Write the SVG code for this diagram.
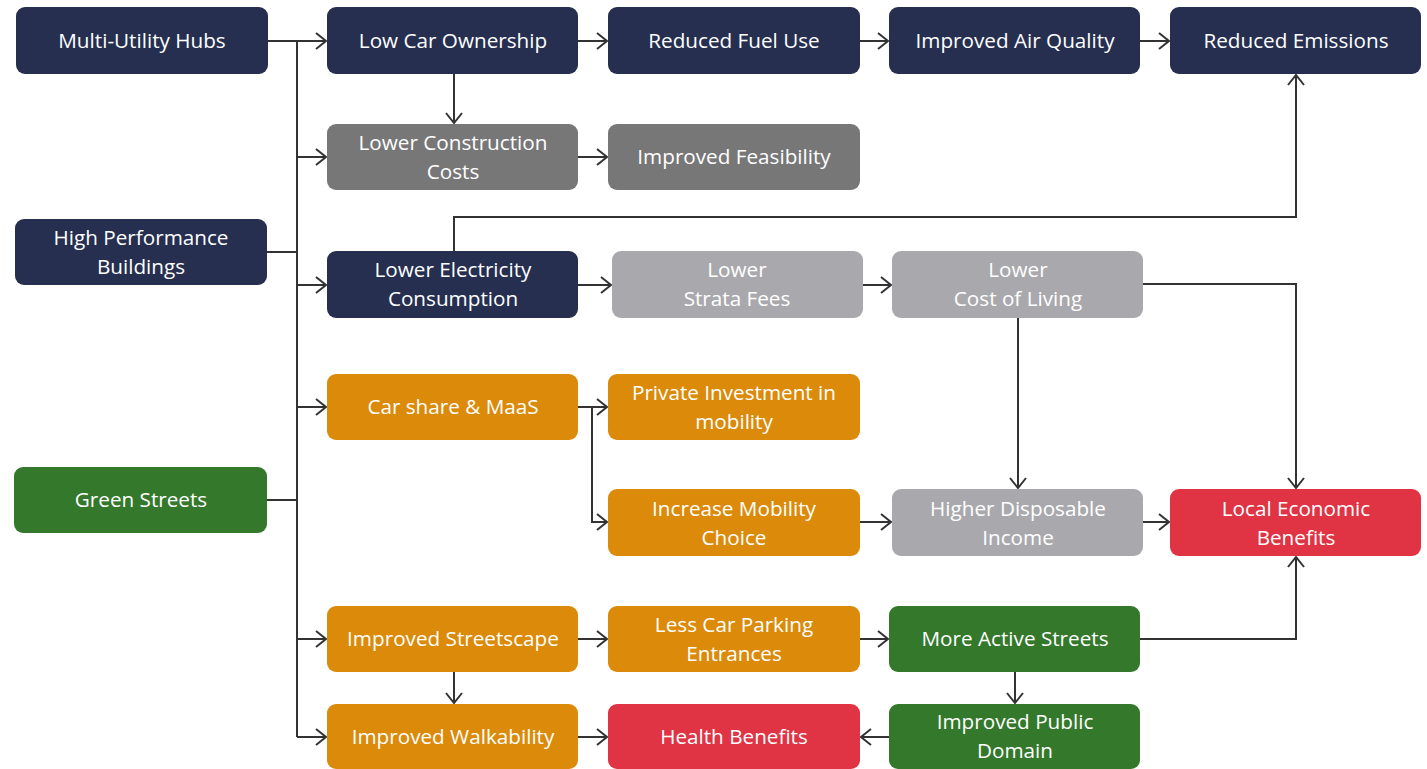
<svg xmlns="http://www.w3.org/2000/svg" width="1427" height="769" viewBox="0 0 1427 769">
<defs>
<marker id="ah" viewBox="0 0 12 18" refX="11" refY="9" markerWidth="12" markerHeight="18" markerUnits="userSpaceOnUse" orient="auto">
<path d="M1,1 L11,9 L1,17" fill="none" stroke="#333" stroke-width="2"/>
</marker>
<style>
.n rect{rx:9;ry:9}
.navy{fill:#262f4f}
.dg{fill:#777778}
.lg{fill:#a9a9ad}
.or{fill:#dc8a0a}
.gr{fill:#34782c}
.rd{fill:#e03344}
text{font-family:"Open Sans","Liberation Sans",sans-serif;font-size:20.7px;fill:#fff;text-anchor:middle}
.c path{fill:none;stroke:#333;stroke-width:2}
</style>
</defs>
<rect width="1427" height="769" fill="#fff"/>
<g class="c" id="connectors">
<path d="M268,41 H297 V737"/>
<path d="M267,252 H297"/>
<path d="M267,500 H297"/>
<path d="M297,41 H326" marker-end="url(#ah)"/>
<path d="M297,157 H326" marker-end="url(#ah)"/>
<path d="M297,285 H326" marker-end="url(#ah)"/>
<path d="M297,407 H326" marker-end="url(#ah)"/>
<path d="M297,639 H326" marker-end="url(#ah)"/>
<path d="M297,737 H326" marker-end="url(#ah)"/>
<path d="M578,41 H607" marker-end="url(#ah)"/>
<path d="M860,41 H888" marker-end="url(#ah)"/>
<path d="M1140,41 H1169" marker-end="url(#ah)"/>
<path d="M454,74 V123" marker-end="url(#ah)"/>
<path d="M578,157 H607" marker-end="url(#ah)"/>
<path d="M454,251 V217 H1296 V75" marker-end="url(#ah)"/>
<path d="M578,285 H611" marker-end="url(#ah)"/>
<path d="M863,285 H891" marker-end="url(#ah)"/>
<path d="M1143,284 H1296 V488" marker-end="url(#ah)"/>
<path d="M1018,318 V488" marker-end="url(#ah)"/>
<path d="M578,407 H607" marker-end="url(#ah)"/>
<path d="M592,407 V522 H607" marker-end="url(#ah)"/>
<path d="M860,522 H891" marker-end="url(#ah)"/>
<path d="M1143,522 H1169" marker-end="url(#ah)"/>
<path d="M578,639 H607" marker-end="url(#ah)"/>
<path d="M860,639 H888" marker-end="url(#ah)"/>
<path d="M1140,639 H1296 V557" marker-end="url(#ah)"/>
<path d="M454,672 V703" marker-end="url(#ah)"/>
<path d="M1015,672 V703" marker-end="url(#ah)"/>
<path d="M578,737 H607" marker-end="url(#ah)"/>
<path d="M889,737 H861" marker-end="url(#ah)"/>
</g>
<g class="n" id="n-hubs"><rect class="navy" x="16" y="7" width="252" height="67"/><text x="142" y="48">Multi-Utility Hubs</text></g>
<g class="n" id="n-hpb"><rect class="navy" x="15" y="219" width="252" height="66"/><text x="141" y="245">High Performance</text><text x="141" y="274">Buildings</text></g>
<g class="n" id="n-green"><rect class="gr" x="14" y="467" width="253" height="66"/><text x="141" y="507">Green Streets</text></g>
<g class="n" id="n-lowcar"><rect class="navy" x="327" y="7" width="251" height="67"/><text x="453" y="48">Low Car Ownership</text></g>
<g class="n" id="n-fuel"><rect class="navy" x="608" y="7" width="252" height="67"/><text x="734" y="48">Reduced Fuel Use</text></g>
<g class="n" id="n-air"><rect class="navy" x="889" y="7" width="251" height="67"/><text x="1015" y="48">Improved Air Quality</text></g>
<g class="n" id="n-emis"><rect class="navy" x="1170" y="7" width="251" height="67"/><text x="1296" y="48">Reduced Emissions</text></g>
<g class="n" id="n-constr"><rect class="dg" x="327" y="124" width="251" height="66"/><text x="453" y="150">Lower Construction</text><text x="453" y="179">Costs</text></g>
<g class="n" id="n-feas"><rect class="dg" x="608" y="124" width="252" height="66"/><text x="734" y="164">Improved Feasibility</text></g>
<g class="n" id="n-elec"><rect class="navy" x="327" y="251" width="251" height="67"/><text x="453" y="277">Lower Electricity</text><text x="453" y="306">Consumption</text></g>
<g class="n" id="n-strata"><rect class="lg" x="612" y="251" width="251" height="67"/><text x="737" y="277">Lower</text><text x="737" y="306">Strata Fees</text></g>
<g class="n" id="n-col"><rect class="lg" x="892" y="251" width="251" height="67"/><text x="1018" y="277">Lower</text><text x="1018" y="306">Cost of Living</text></g>
<g class="n" id="n-carshare"><rect class="or" x="327" y="374" width="251" height="66"/><text x="453" y="414">Car share &amp; MaaS</text></g>
<g class="n" id="n-privinv"><rect class="or" x="608" y="374" width="252" height="66"/><text x="734" y="400">Private Investment in</text><text x="734" y="429">mobility</text></g>
<g class="n" id="n-choice"><rect class="or" x="608" y="489" width="252" height="67"/><text x="734" y="516">Increase Mobility</text><text x="734" y="545">Choice</text></g>
<g class="n" id="n-income"><rect class="lg" x="892" y="489" width="251" height="67"/><text x="1018" y="516">Higher Disposable</text><text x="1018" y="545">Income</text></g>
<g class="n" id="n-econ"><rect class="rd" x="1170" y="489" width="251" height="67"/><text x="1296" y="516">Local Economic</text><text x="1296" y="545">Benefits</text></g>
<g class="n" id="n-streetscape"><rect class="or" x="327" y="606" width="251" height="66"/><text x="453" y="646">Improved Streetscape</text></g>
<g class="n" id="n-parking"><rect class="or" x="608" y="606" width="252" height="66"/><text x="734" y="632">Less Car Parking</text><text x="734" y="661">Entrances</text></g>
<g class="n" id="n-active"><rect class="gr" x="889" y="606" width="251" height="66"/><text x="1015" y="646">More Active Streets</text></g>
<g class="n" id="n-walk"><rect class="or" x="327" y="704" width="251" height="65"/><text x="453" y="744">Improved Walkability</text></g>
<g class="n" id="n-health"><rect class="rd" x="608" y="704" width="252" height="65"/><text x="734" y="744">Health Benefits</text></g>
<g class="n" id="n-public"><rect class="gr" x="889" y="704" width="251" height="65"/><text x="1015" y="729">Improved Public</text><text x="1015" y="758">Domain</text></g>
</svg>
